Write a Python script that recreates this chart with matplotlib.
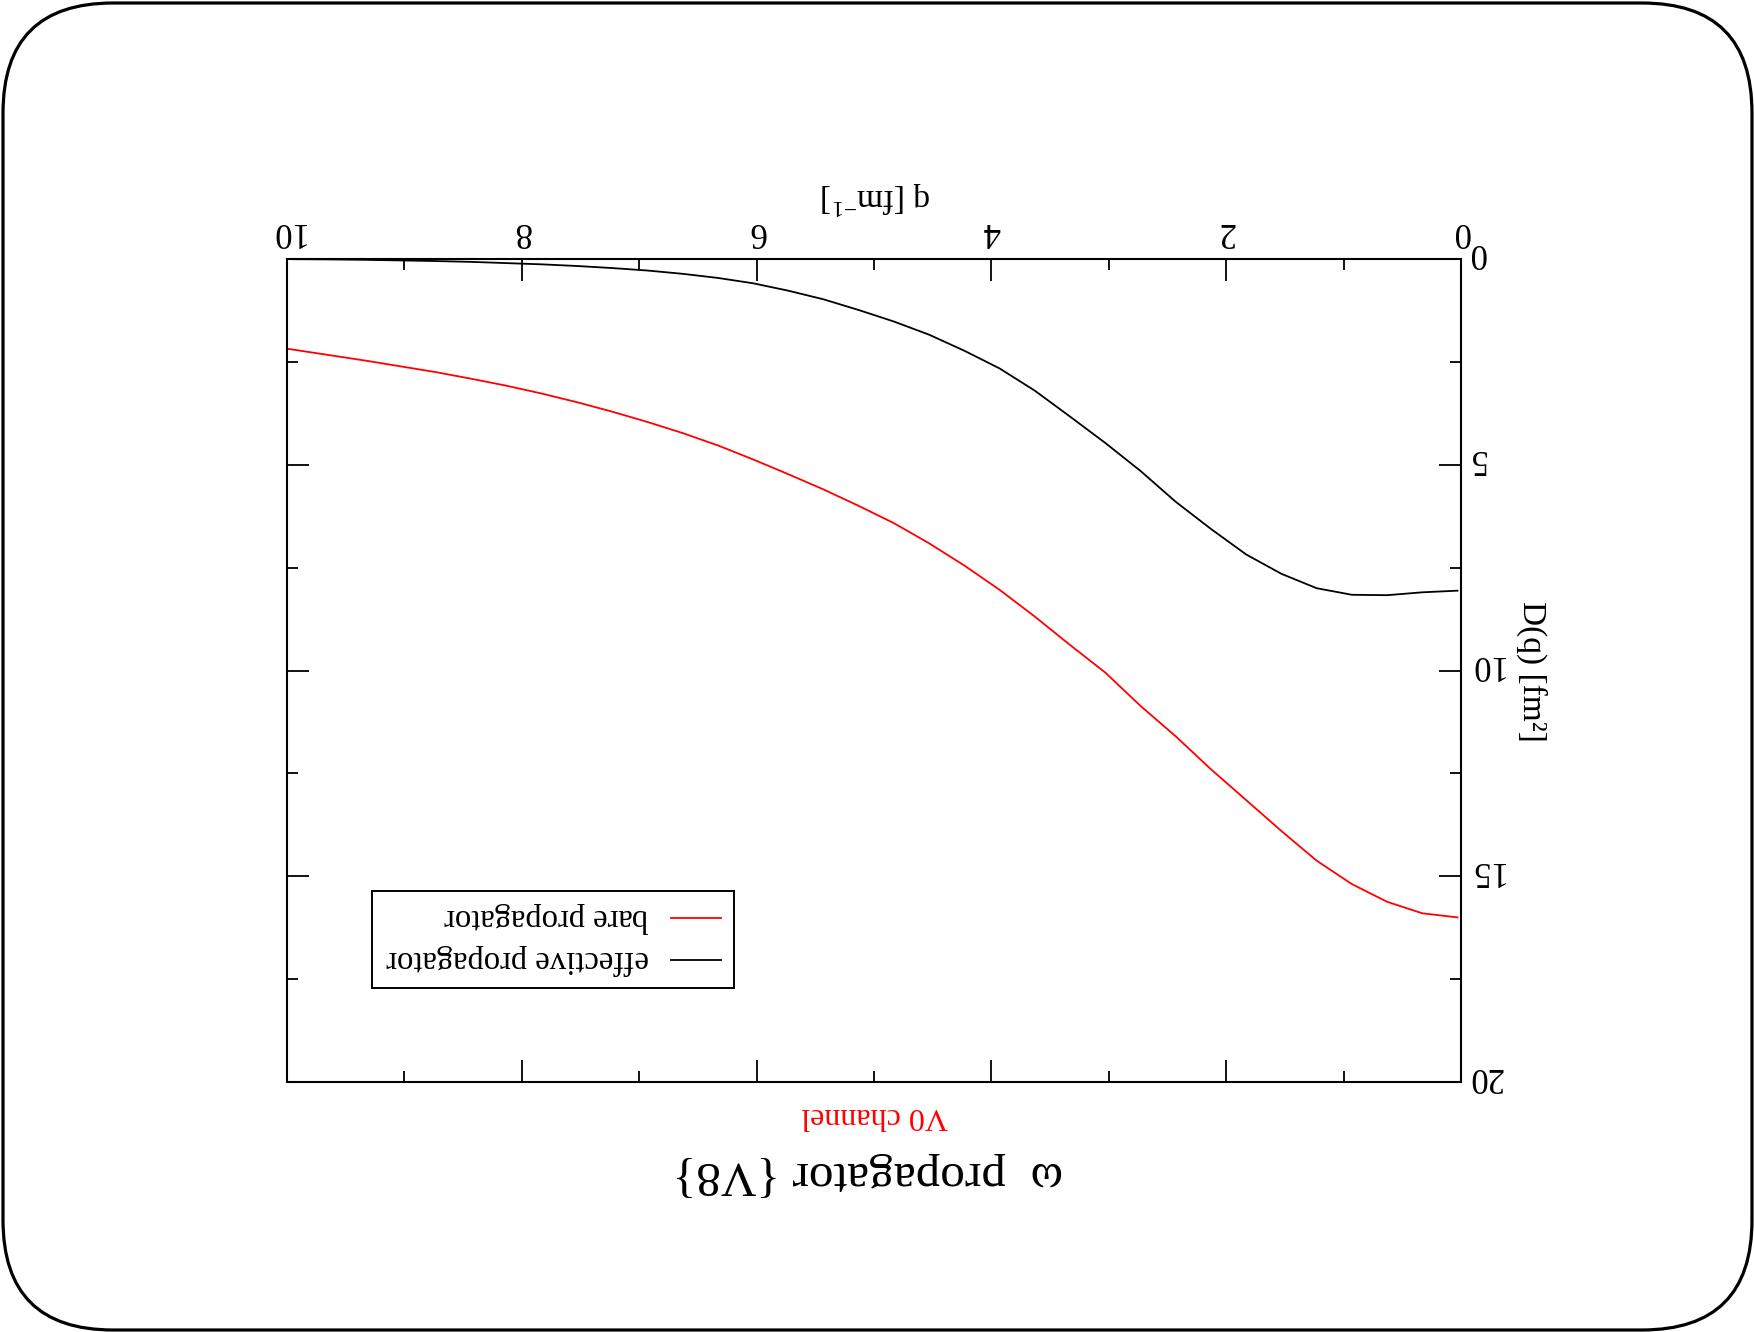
import matplotlib
matplotlib.use('Agg')
import matplotlib.pyplot as plt
from matplotlib.patches import FancyBboxPatch, Rectangle
from matplotlib.lines import Line2D
from matplotlib.transforms import IdentityTransform, ScaledTranslation

# ---- data ----
q = [0.03, 0.33, 0.63, 0.93, 1.23, 1.53, 1.83, 2.13, 2.43, 2.73, 3.03, 3.33,
     3.63, 3.93, 4.23, 4.53, 4.83, 5.13, 5.43, 5.73, 6.03, 6.33, 6.63, 6.93,
     7.23, 7.53, 7.83, 8.13, 8.43, 8.73, 9.03, 9.33, 9.63, 9.93, 10.0]
d_effective = [8.06, 8.10, 8.17, 8.16, 8.00, 7.65, 7.18, 6.56, 5.90, 5.15, 4.47, 3.83,
               3.20, 2.66, 2.23, 1.84, 1.52, 1.24, 0.98, 0.77, 0.59, 0.46, 0.36, 0.28,
               0.22, 0.17, 0.13, 0.10, 0.07, 0.05, 0.035, 0.02, 0.01, 0.005, 0.0]
d_bare = [16.0, 15.9, 15.62, 15.19, 14.62, 13.9, 13.15, 12.4, 11.6, 10.86, 10.05, 9.38,
          8.69, 8.04, 7.45, 6.91, 6.42, 6.00, 5.60, 5.23, 4.87, 4.53, 4.23, 3.96,
          3.71, 3.48, 3.27, 3.08, 2.91, 2.75, 2.61, 2.47, 2.34, 2.21, 2.18]
x_major = [0, 2, 4, 6, 8, 10]
x_minor = [1, 3, 5, 7, 9]
y_major = [0, 5, 10, 15, 20]
y_minor = [2.5, 7.5, 12.5, 17.5]
series_labels = ['bare propagator', 'effective propagator']
series_colors = ['red', 'black']

W, H = 1754, 1332
plt.rcParams['font.family'] = ['Liberation Serif', 'DejaVu Serif']
plt.rcParams['mathtext.fontset'] = 'custom'
plt.rcParams['mathtext.rm'] = 'Liberation Serif'
plt.rcParams['mathtext.it'] = 'Liberation Serif:italic'

fig = plt.figure(figsize=(W / 100, H / 100), dpi=100)
fig.patch.set_facecolor('white')


def fx(x):
    return x / W


def fy(y):
    return 1 - y / H


# rounded slide border (display pixels)
border = FancyBboxPatch((3, 2), 1749, 1327,
                        boxstyle='round,pad=0,rounding_size=110',
                        transform=IdentityTransform(), fill=False,
                        edgecolor='black', linewidth=2.3)
fig.add_artist(border)

ax = fig.add_axes([fx(287), fy(1082), (1461 - 287) / W, (1082 - 259) / H])
ax.plot(q, d_effective, color=series_colors[1], lw=1.3)
ax.plot(q, d_bare, color=series_colors[0], lw=1.3)
ax.set_xlim(10, 0)
ax.set_ylim(20, 0)
ax.set_xticks(x_major)
ax.set_xticks(x_minor, minor=True)
ax.set_yticks(y_major)
ax.set_yticks(y_minor, minor=True)
ax.set_xticklabels([str(v) for v in x_major])
ax.set_yticklabels([str(v) for v in y_major])
ax.tick_params(which='both', direction='in', top=True, bottom=True, left=True,
               right=True, labeltop=True, labelbottom=False, labelright=True,
               labelleft=False, width=1.3)
ax.tick_params(which='minor', length=8)
ax.tick_params(which='major', length=16, labelsize=25, labelrotation=180)
ax.tick_params(axis='x', which='major', pad=8)
ax.tick_params(axis='y', which='major', pad=5)
for s in ax.spines.values():
    s.set_linewidth(1.5)

# upside-down y tick labels: centre the visible glyphs on the tick
shift = ScaledTranslation(0, 6 / 100, fig.dpi_scale_trans)
for tick in ax.yaxis.get_major_ticks():
    for lab in (tick.label1, tick.label2):
        lab.set_va('center')
        lab.set_transform(lab.get_transform() + shift)

# axis labels (upside-down page)
fig.text(fx(876), fy(198), r'q [fm$^{-1}$]', rotation=180, ha='center',
         va='center', rotation_mode='anchor', size=24)
fig.text(fx(1532), fy(671), 'D(q) [fm²]', rotation=270, ha='center',
         va='center', rotation_mode='anchor', size=24)
fig.text(fx(875), fy(1116), 'V0 channel', rotation=180, ha='center',
         va='center', rotation_mode='anchor', size=23, color='red')
fig.text(fx(868), fy(1174), 'ω  propagator {V8}', rotation=180, ha='center',
         va='center', rotation_mode='anchor', size=35.5)

# legend (drawn rotated)
fig.add_artist(Rectangle((fx(372), fy(988)), (734 - 372) / W, (988 - 891) / H,
                         transform=fig.transFigure, fill=False,
                         edgecolor='black', linewidth=1.4))
for lab, col, yy in zip(series_labels, series_colors, [918, 960]):
    fig.add_artist(Line2D([fx(671), fx(721)], [fy(yy), fy(yy)],
                          transform=fig.transFigure, color=col, lw=1.3))
    fig.text(fx(649), fy(yy), lab, rotation=180, ha='left', va='center',
             rotation_mode='anchor', size=23.5)

fig.savefig('out.png', dpi=100, facecolor='white')
